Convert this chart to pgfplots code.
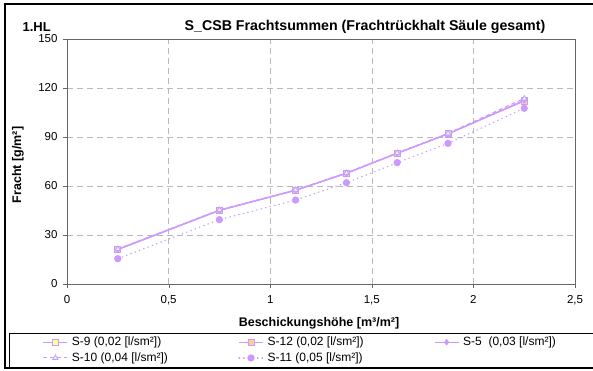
\documentclass[border=0pt]{standalone}
\usepackage{pgfplots}
\pgfplotsset{compat=1.18}
\usepackage{fontspec}
\setmainfont{Liberation Sans}
\definecolor{lp}{HTML}{CC99FF}
\definecolor{yel}{HTML}{FFFF99}
\definecolor{peach}{HTML}{FFCC99}
\definecolor{cyanl}{HTML}{CCFFFF}
\begin{document}
\begin{tikzpicture}[x=1pt,y=1pt]
\path[use as bounding box] (0,0) rectangle (593,371);
\draw[line width=2.2pt] (595,367) -- (5,367) -- (5,3) -- (595,3);
\draw[line width=0.6pt] (595,38) -- (9.5,38) -- (9.5,3);
\node[anchor=west,font=\fontsize{13}{15}\selectfont\bfseries] at (19,344) {1.HL};
\node[font=\fontsize{14.2}{16}\selectfont\bfseries] at (365,344) {S\_CSB Frachtsummen (Frachtrückhalt Säule gesamt)};
\node[rotate=90,font=\fontsize{12.5}{14}\selectfont\bfseries] at (18,206) {Fracht [g/m²]};
\node[font=\fontsize{12.5}{14}\selectfont\bfseries] at (319,48) {Beschickungshöhe [m³/m²]};
\begin{axis}[
  at={(67pt,87pt)}, anchor=south west, scale only axis,
  width=508pt, height=245pt,
  xmin=0, xmax=2.5, ymin=0, ymax=150,
  xtick={0,0.5,1,1.5,2,2.5}, ytick={0,30,60,90,120,150},
  xticklabels={0,{0,5},1,{1,5},2,{2,5}},
  /pgf/number format/assume math mode=true,
  tick label style={font=\fontsize{11.5}{13}\selectfont},
  xticklabel style={yshift=-4pt},
  yticklabel style={xshift=-2pt},
  grid=major, grid style={dashed, color=gray!55, line width=0.6pt, dash pattern=on 6pt off 4pt},
  axis line style={draw=gray!80!black, line width=0.7pt},
  tick align=outside, xtick pos=bottom, ytick pos=left,
  major tick length=4pt, tick style={draw=gray!80!black},
  legend columns=3,
  legend style={draw=none, fill=none, at={(rel axis cs:-0.048,-0.212)}, anchor=north west,
    inner sep=0pt, nodes={inner sep=1pt}, row sep=3.5pt, font=\fontsize{12}{13}\selectfont},
  legend cell align=left,
  legend image code/.code={\draw[mark repeat=2,mark phase=2,#1] plot coordinates {(0pt,0pt)(12pt,0pt)(24pt,0pt)};},
]
\addplot[color=lp, line width=1.1pt, solid, mark=square*, mark size=3pt, mark options={fill=yel, draw=lp, solid, line width=0.7pt}] coordinates {
(0.25,21.2)(0.75,45.1)(1.125,57.4)(1.375,67.8)(1.625,80.0)(1.875,91.8)(2.25,112.3)};
\addlegendentry{\makebox[168.5pt][l]{\hspace{3pt}S-9 (0,02 [l/sm²])}}
\addplot[color=lp, line width=1.1pt, solid, mark=square*, mark size=3pt, mark options={fill=peach, draw=lp, solid, line width=0.7pt}] coordinates {
(0.25,21.3)(0.75,45.2)(1.125,57.5)(1.375,67.9)(1.625,80.1)(1.875,92.0)(2.25,112.0)};
\addlegendentry{\makebox[168.5pt][l]{\hspace{3pt}S-12 (0,02 [l/sm²])}}
\addplot[color=lp, line width=1.1pt, solid, mark=diamond*, mark size=2.5pt, mark options={fill=lp, draw=lp, solid}] coordinates {
(0.25,21.0)(0.75,45.0)(1.125,57.3)(1.375,67.7)(1.625,80.0)(1.875,91.9)(2.25,112.5)};
\addlegendentry{\makebox[168.5pt][l]{\hspace{3pt}S-5\ \ (0,03 [l/sm²])}}
\addplot[color=lp, line width=1.1pt, dash pattern=on 4pt off 3pt, mark=triangle*, mark size=3pt, mark options={fill=cyanl, draw=lp, solid, line width=0.7pt}] coordinates {
(0.25,21.4)(0.75,45.3)(1.125,57.6)(1.375,68.0)(1.625,80.3)(1.875,92.2)(2.25,113.6)};
\addlegendentry{\makebox[168.5pt][l]{\hspace{3pt}S-10 (0,04 [l/sm²])}}
\addplot[color=lp, line width=1.2pt, line cap=round, dash pattern=on 0.6pt off 4pt, mark=*, mark size=3pt, mark options={fill=lp, draw=lp, solid}] coordinates {
(0.25,15.5)(0.75,39.4)(1.125,51.4)(1.375,62.0)(1.625,74.3)(1.875,86.1)(2.25,107.6)};
\addlegendentry{\makebox[168.5pt][l]{\hspace{3pt}S-11 (0,05 [l/sm²])}}
\end{axis}
\end{tikzpicture}
\end{document}
